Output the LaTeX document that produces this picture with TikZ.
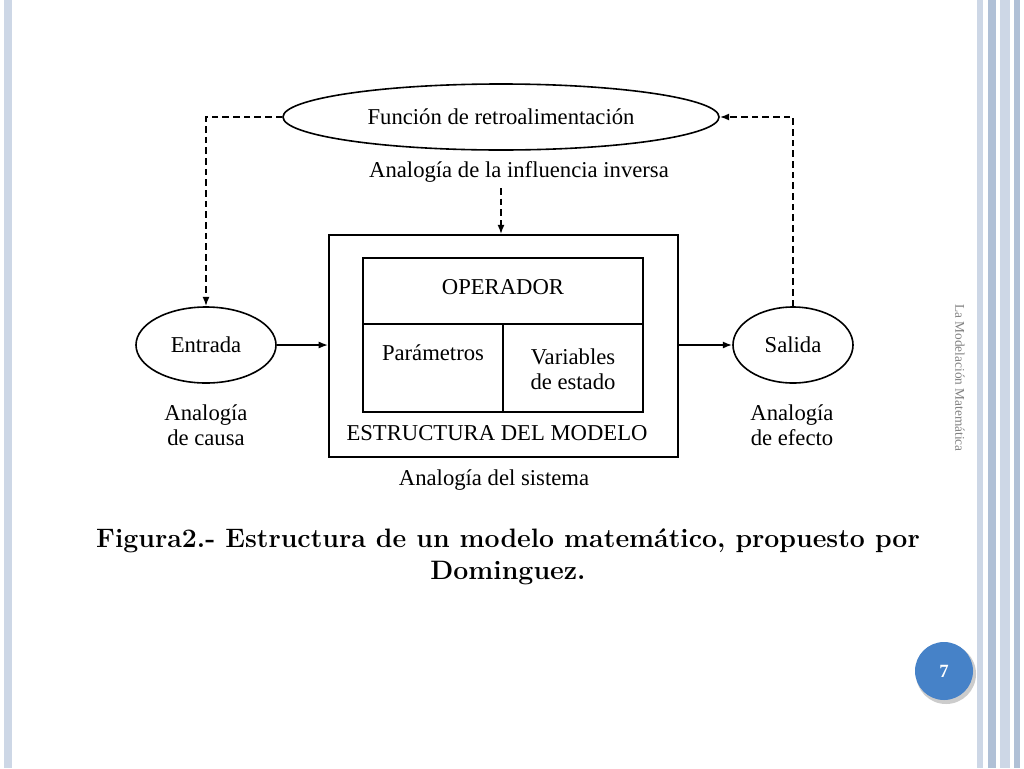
\documentclass[tikz,border=0pt]{standalone}
\usepackage{fontspec}
\newfontfamily\dfont{Liberation Serif}
\usetikzlibrary{arrows.meta,shapes.geometric}
\definecolor{bar}{RGB}{176,192,214}
\definecolor{barl}{RGB}{205,215,230}
\definecolor{pg}{RGB}{70,130,200}
\begin{document}
\begin{tikzpicture}[x=0.75pt,y=-0.75pt,
  lbl/.style={font=\dfont\fontsize{17}{19}\selectfont,align=center,inner sep=0},
  dsh/.style={dashed,line width=1.2pt,dash pattern=on 5pt off 3pt,-{Latex[length=7pt]}},
  sol/.style={line width=1.2pt,-{Latex[length=7pt]}},
  bx/.style={draw,line width=1.2pt}]
\useasboundingbox[fill=white] (0,0) rectangle (1024,768);
% borders
\fill[barl] (4,0) rectangle (12,768);
\fill[barl] (977,0) rectangle (983,768);
\fill[bar] (988,0) rectangle (996,768);
\fill[barl] (1000,0) rectangle (1010,768);
\fill[bar] (1014,0) rectangle (1020,768);
% top ellipse
\node[bx,ellipse,minimum width=327pt,minimum height=49.5pt,lbl,inner sep=0] (fr) at (501,117) {Función de retroalimentación};
\node[lbl] (ai) at (519,172) {Analogía de la influencia inversa};
% outer box
\node[bx,minimum width=262pt,minimum height=166.5pt,inner sep=0] (sys) at (503.5,346) {};
\node[bx,minimum width=210pt,minimum height=115.5pt,inner sep=0] (op) at (503,335) {};
\draw[line width=1.2pt] (363,324) -- (643,324);
\draw[line width=1.2pt] (503,324) -- (503,412);
\node[lbl] (opt) at (503,287) {OPERADOR};
\node[lbl] (par) at (433,353) {Parámetros};
\node[lbl] (var) at (573,369) {Variables\\de estado};
\node[lbl] (est) at (497,433) {ESTRUCTURA DEL MODELO};
\node[lbl] (as) at (494,480) {Analogía del sistema};
% entrada / salida
\node[bx,ellipse,minimum width=105pt,minimum height=57pt,lbl] (ent) at (206,345) {Entrada};
\node[bx,ellipse,minimum width=90pt,minimum height=57pt,lbl] (sal) at (793,345) {Salida};
\node[lbl] (ac) at (206,425) {Analogía\\de causa};
\node[lbl] (ae) at (792,425) {Analogía\\de efecto};
% arrows
\coordinate (d0) at (501,188);
\draw[sol] (ent.east) -- (sys.west |- ent.east);
\draw[sol] (sys.east |- sal.west) -- (sal.west);
\draw[dsh] (d0) -- (sys.north -| d0);
\draw[dsh] (fr.west) -- (206,117) -- (ent.north);
\draw[dsh] (sal.north) -- (793,117) -- (fr.east);
% caption
\node[font=\bfseries\fontsize{20}{24}\selectfont,align=center] (cap) at (508,557) {Figura2.- Estructura de un modelo matemático, propuesto por\\Dominguez.};
\node[rotate=-90,text=gray,font=\dfont\fontsize{10}{12}\selectfont] (side) at (960,378) {La Modelación Matemática};
\fill[gray!40] (946,674) circle (22.5pt);
\node[circle,fill=pg,minimum size=43.5pt,text=white,font=\dfont\bfseries\fontsize{14}{16}\selectfont] (pn) at (944,671) {7};
\end{tikzpicture}
\end{document}
